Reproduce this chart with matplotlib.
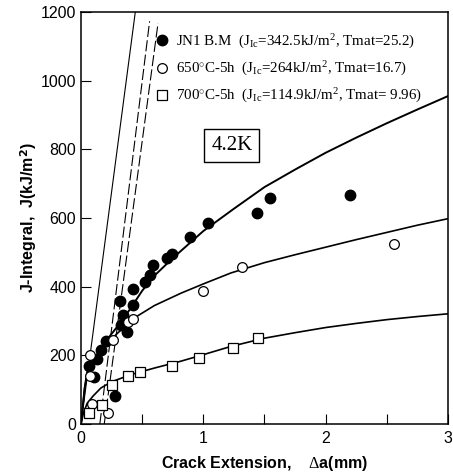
import matplotlib
matplotlib.use("Agg")
import matplotlib.pyplot as plt

plt.rcParams['mathtext.fontset'] = 'custom'
plt.rcParams['mathtext.rm'] = 'Liberation Serif'
plt.rcParams['mathtext.it'] = 'Liberation Serif:italic'

# measured points
jn1_x = [0.068, 0.109, 0.134, 0.161, 0.204, 0.278, 0.319, 0.325, 0.346, 0.379,
         0.428, 0.428, 0.523, 0.564, 0.59, 0.70, 0.747, 0.891, 1.036, 1.436, 1.543, 2.199]
jn1_y = [168, 136, 189, 216, 243, 83, 357, 289, 318, 268,
         393, 348, 415, 435, 464, 483, 496, 545, 585, 616, 658, 668]

h650_x = [0.070, 0.070, 0.088, 0.218, 0.258, 0.384, 0.428, 0.995, 1.32, 2.559]
h650_y = [202, 140, 58, 32, 246, 296, 307, 388, 456, 524]

h700_x = [0.062, 0.175, 0.254, 0.384, 0.48, 0.744, 0.961, 1.246, 1.45]
h700_y = [32, 56, 114, 139, 152, 169, 193, 220, 250]

# fitted R-curves
jn1_fit_x = [0, 0.03, 0.05, 0.1, 0.15, 0.2, 0.3, 0.4, 0.5, 0.6, 0.75, 1.0, 1.25, 1.5,
             1.75, 2.0, 2.25, 2.5, 2.75, 3.0]
jn1_fit_y = [0, 105, 150, 187, 212, 240, 285, 334, 388, 432, 483, 562, 627, 690,
             741, 790, 834, 876, 916, 955]

h650_fit_x = [0, 0.03, 0.05, 0.1, 0.2, 0.25, 0.3, 0.436, 0.6, 0.817, 1.0, 1.226, 1.5,
              1.75, 2.0, 2.25, 2.5, 2.75, 3.0]
h650_fit_y = [0, 105, 145, 182, 228, 247, 265, 309, 345, 381, 408, 440, 470,
              493, 515, 537, 558, 579, 598]

h700_fit_x = [0, 0.02, 0.05, 0.1, 0.163, 0.25, 0.409, 0.6, 0.817, 1.0, 1.226, 1.5,
              1.75, 2.0, 2.25, 2.5, 2.75, 3.0]
h700_fit_y = [0, 32, 60, 82, 105, 123, 144, 163, 183, 202, 226, 250,
              266, 281, 293, 304, 313, 321]

# blunting line and offset lines
blunt_x = [0, 0.444]
blunt_y = [0, 1200]
off1_x = [0.154, 0.561]
off1_y = [0, 1173]
off2_x = [0.19, 0.63]
off2_y = [0, 1168]

labels = ["JN1 B.M  (J$_{\\rm Ic}$=342.5kJ/m$^2$, Tmat=25.2)",
          "650$^{\\circ}$C-5h  (J$_{\\rm Ic}$=264kJ/m$^2$, Tmat=16.7)",
          "700$^{\\circ}$C-5h  (J$_{\\rm Ic}$=114.9kJ/m$^2$, Tmat= 9.96)"]

fig = plt.figure(figsize=(4.53, 4.76), dpi=100)
ax = fig.add_axes([0.1788, 0.1092, 0.81, 0.8656])

ax.plot(blunt_x, blunt_y, color='k', lw=0.8)
ax.plot(off1_x, off1_y, color='k', lw=0.8, dashes=(10, 3))
ax.plot(off2_x, off2_y, color='k', lw=0.8, dashes=(10, 3))

ax.plot(jn1_fit_x, jn1_fit_y, color='k', lw=1.4)
ax.plot(h650_fit_x, h650_fit_y, color='k', lw=1.2)
ax.plot(h700_fit_x, h700_fit_y, color='k', lw=1.2)

ax.plot(jn1_x, jn1_y, 'o', ms=7.5, mfc='k', mec='k', label=labels[0])
ax.plot(h650_x, h650_y, 'o', ms=7, mfc='white', mec='k', mew=0.9, label=labels[1])
ax.plot(h700_x, h700_y, 's', ms=7.5, mfc='white', mec='k', mew=0.9, label=labels[2])

leg = ax.legend(loc='upper left', bbox_to_anchor=(0.16, 0.983), frameon=False,
                handletextpad=0.35, labelspacing=0.6, handlelength=1.2,
                prop={'family': 'Liberation Serif', 'size': 10.8})

ax.text(1.234, 812, "4.2K", ha='center', va='center', family='Liberation Serif', fontsize=15,
        bbox=dict(boxstyle='square,pad=0.33', fc='white', ec='k', lw=1.0))

ax.set_xlim(0, 3)
ax.set_ylim(0, 1200)
ax.set_xticks([0, 1, 2, 3])
ax.set_xticks([0.5, 1.5, 2.5], minor=True)
ax.set_yticks(range(0, 1201, 200))
ax.tick_params(axis='both', which='both', direction='in', length=7, width=0.8,
               labelsize=11.5, top=False, right=False)
ax.tick_params(axis='x', pad=5)
for lab in ax.get_xticklabels() + ax.get_yticklabels():
    lab.set_family('Liberation Sans')
for s in ax.spines.values():
    s.set_linewidth(1.1)

ax.set_xlabel("Crack Extension,    $\\Delta$a(mm)", fontsize=11.5, fontweight='bold',
              family='Liberation Sans', labelpad=6)
ax.set_ylabel("J-Integral,  J(kJ/m$^{\\mathbf{2}}$)", fontsize=11.5, fontweight='bold',
              family='Liberation Sans', labelpad=1)

fig.savefig("out.png", dpi=100)
